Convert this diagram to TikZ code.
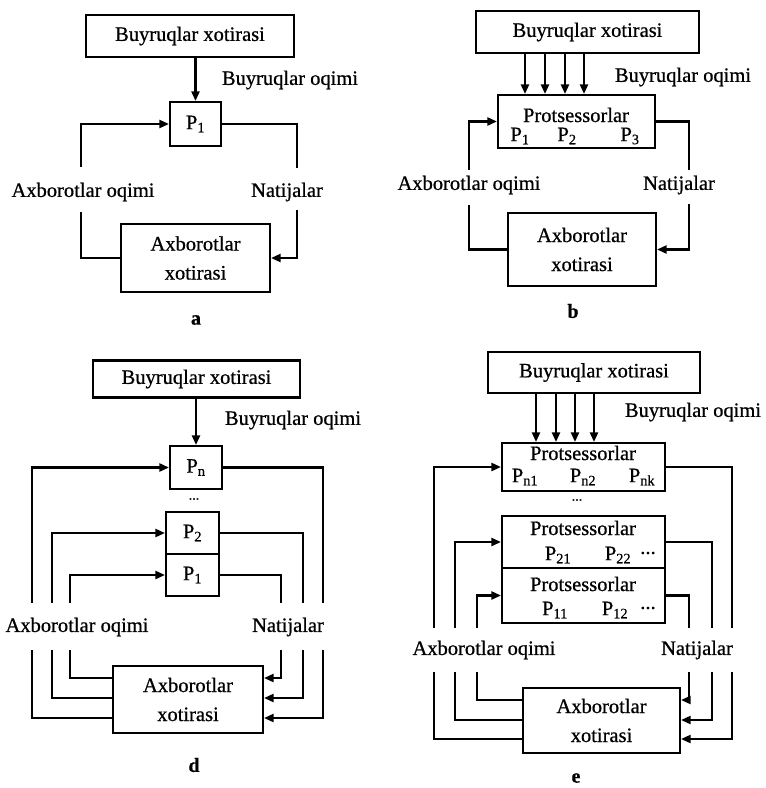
\documentclass[tikz,border=0pt]{standalone}
\usepackage{fontspec}
\setmainfont{Liberation Serif}[FakeBold=0.6]
\usetikzlibrary{arrows.meta}
\begin{document}
\begin{tikzpicture}[x=1pt,y=-1pt,
  every node/.style={font=\fontsize{20.5}{29}\selectfont, inner sep=0pt},
  box/.style={draw, line width=2.1pt, align=center},
  ln/.style={line width=2.1pt},
  arr/.style={line width=2.1pt, -{Triangle[length=9.5pt,width=8pt]}},
  smalldots/.style={font=\fontsize{14}{14}\selectfont},
  panelcap/.style={font=\fontsize{20}{20}\selectfont\bfseries}]
\useasboundingbox (0,0) rectangle (766,788);

% ---------------- panel a ----------------
\node[box, minimum width=208pt, minimum height=42pt] (BXa) at (190,36) {Buyruqlar xotirasi};
\node[box, minimum width=51pt, minimum height=44pt] (Pa) at (195.5,124) {P\textsubscript{1}};
\node[box, minimum width=149pt, minimum height=68pt] (AXa) at (195.5,258) {Axborotlar\\xotirasi};
\draw[arr] (BXa.south -| Pa) -- (Pa.north);
\node (BOa) at (290,80) {Buyruqlar oqimi};
\node (AOa) at (83,192) {Axborotlar oqimi};
\node (NTa) at (287,192) {Natijalar};
\coordinate (aL1) at (81,167); \coordinate (aL2) at (81,212);
\coordinate (aR1) at (297,168); \coordinate (aR2) at (297,210);
\draw[arr] (aL1) |- (Pa.west);
\draw[ln] (AXa.west) -| (aL2);
\draw[ln] (Pa.east) -| (aR1);
\draw[arr] (aR2) |- (AXa.east);
\node[panelcap] (capa) at (196,320) {a};

% ---------------- panel b ----------------
\node[box, minimum width=223pt, minimum height=42pt] (BXb) at (587.5,32) {Buyruqlar xotirasi};
\node[box, minimum width=157pt, minimum height=53pt] (PRb) at (576.5,121.5) {};
\node (PRbt) at (576,115) {Protsessorlar};
\node (PRb1) at (520,136) {P\textsubscript{1}};
\node (PRb2) at (567,136) {P\textsubscript{2}};
\node (PRb3) at (630,136) {P\textsubscript{3}};
\node[box, minimum width=148pt, minimum height=73pt] (AXb) at (582,249.5) {Axborotlar\\xotirasi};
\foreach \x [count=\i] in {525,545,565,584} {
  \coordinate (bA\i) at (\x,0);
  \draw[arr] (BXb.south -| bA\i) -- (PRb.north -| bA\i);
}
\node (BOb) at (683,77) {Buyruqlar oqimi};
\node (AOb) at (469,185) {Axborotlar oqimi};
\node (NTb) at (679,185) {Natijalar};
\coordinate (bL1) at (469,170); \coordinate (bL2) at (469,205);
\coordinate (bR1) at (689,170); \coordinate (bR2) at (689,204);
\draw[arr] (bL1) |- (PRb.west);
\draw[ln] (AXb.west) -| (bL2);
\draw[ln] (PRb.east) -| (bR1);
\draw[arr] (bR2) |- (AXb.east);
\node[panelcap] (capb) at (573,311) {b};

% ---------------- panel d ----------------
\node[box, minimum width=207pt, minimum height=37pt] (BXd) at (196.5,379) {Buyruqlar xotirasi};
\node[box, minimum width=52pt, minimum height=43pt] (Pnd) at (196,467.5) {P\textsubscript{n}};
\node[smalldots] (dotd) at (194,499) {...};
\node[box, minimum width=53pt, minimum height=42pt] (P2d) at (192.5,533) {P\textsubscript{2}};
\node[box, minimum width=53pt, minimum height=42pt] (P1d) at (192.5,575) {P\textsubscript{1}};
\node[box, minimum width=150pt, minimum height=67pt] (AXd) at (188,699.5) {Axborotlar\\xotirasi};
\draw[arr] (BXd.south -| Pnd) -- (Pnd.north);
\node (BOd) at (293,420) {Buyruqlar oqimi};
\node (AOd) at (77,627) {Axborotlar oqimi};
\node (NTd) at (288,627) {Natijalar};
% left side
\coordinate (dL1t) at (70,603); \coordinate (dL1b) at (70,650); \coordinate (dL1c) at (70,678);
\coordinate (dL2t) at (52,603); \coordinate (dL2b) at (52,650); \coordinate (dL2c) at (52,698);
\coordinate (dL3t) at (32,603); \coordinate (dL3b) at (32,650); \coordinate (dL3c) at (32,718);
\draw[arr] (dL1t) |- (P1d.west);
\draw[arr] (dL2t) |- (P2d.west);
\draw[arr] (dL3t) |- (Pnd.west);
\draw[ln] (AXd.west |- dL1c) -- (dL1c) -- (dL1b);
\draw[ln] (AXd.west |- dL2c) -- (dL2c) -- (dL2b);
\draw[ln] (AXd.west |- dL3c) -- (dL3c) -- (dL3b);
% right side
\coordinate (dR1t) at (281,603); \coordinate (dR1b) at (281,650); \coordinate (dR1c) at (281,678);
\coordinate (dR2t) at (303,603); \coordinate (dR2b) at (303,650); \coordinate (dR2c) at (303,698);
\coordinate (dR3t) at (323,603); \coordinate (dR3b) at (323,650); \coordinate (dR3c) at (323,718);
\draw[ln] (P1d.east) -| (dR1t);
\draw[ln] (P2d.east) -| (dR2t);
\draw[ln] (Pnd.east) -| (dR3t);
\draw[arr] (dR1b) -- (dR1c) -- (AXd.east |- dR1c);
\draw[arr] (dR2b) -- (dR2c) -- (AXd.east |- dR2c);
\draw[arr] (dR3b) -- (dR3c) -- (AXd.east |- dR3c);
\node[panelcap] (capd) at (194,765) {d};

% ---------------- panel e ----------------
\node[box, minimum width=212pt, minimum height=41pt] (BXe) at (594,372.5) {Buyruqlar xotirasi};
\node[box, minimum width=163pt, minimum height=48pt] (Pne) at (583.5,467) {};
\node (Pnet) at (583,453) {Protsessorlar};
\node (Pne1) at (525,477) {P\textsubscript{n1}};
\node (Pne2) at (583,477) {P\textsubscript{n2}};
\node (Pne3) at (642,477) {P\textsubscript{nk}};
\node[smalldots] (dote) at (577,500) {...};
\node[box, minimum width=163pt, minimum height=52pt] (P2e) at (583.5,542) {};
\node (P2et) at (583,528) {Protsessorlar};
\node (P2e1) at (558,555) {P\textsubscript{21}};
\node (P2e2) at (618,555) {P\textsubscript{22}};
\node (P2e3) at (648,553) {...};
\node[box, minimum width=163pt, minimum height=55pt] (P1e) at (583.5,595.5) {};
\node (P1et) at (583,584) {Protsessorlar};
\node (P1e1) at (555,610) {P\textsubscript{11}};
\node (P1e2) at (615,610) {P\textsubscript{12}};
\node (P1e3) at (648,608) {...};
\node[box, minimum width=157pt, minimum height=65pt] (AXe) at (601.5,720.5) {Axborotlar\\xotirasi};
\foreach \x [count=\i] in {536,556,575,594} {
  \coordinate (eA\i) at (\x,0);
  \draw[arr] (BXe.south -| eA\i) -- (Pne.north -| eA\i);
}
\node (BOe) at (693,412) {Buyruqlar oqimi};
\node (AOe) at (484,650) {Axborotlar oqimi};
\node (NTe) at (697,650) {Natijalar};
% left side
\coordinate (eL1t) at (477,628); \coordinate (eL1b) at (477,672); \coordinate (eL1c) at (477,700);
\coordinate (eL2t) at (455,628); \coordinate (eL2b) at (455,672); \coordinate (eL2c) at (455,720);
\coordinate (eL3t) at (434,628); \coordinate (eL3b) at (434,672); \coordinate (eL3c) at (434,739);
\draw[arr] (eL1t) |- (P1e.west);
\draw[arr] (eL2t) |- (P2e.west);
\draw[arr] (eL3t) |- (Pne.west);
\draw[ln] (AXe.west |- eL1c) -- (eL1c) -- (eL1b);
\draw[ln] (AXe.west |- eL2c) -- (eL2c) -- (eL2b);
\draw[ln] (AXe.west |- eL3c) -- (eL3c) -- (eL3b);
% right side
\coordinate (eR1t) at (689,628); \coordinate (eR1b) at (689,672); \coordinate (eR1c) at (689,700);
\coordinate (eR2t) at (712,628); \coordinate (eR2b) at (712,672); \coordinate (eR2c) at (712,720);
\coordinate (eR3t) at (732,628); \coordinate (eR3b) at (732,672); \coordinate (eR3c) at (732,739);
\draw[ln] (P1e.east) -| (eR1t);
\draw[ln] (P2e.east) -| (eR2t);
\draw[ln] (Pne.east) -| (eR3t);
\draw[arr] (eR1b) -- (eR1c) -- (AXe.east |- eR1c);
\draw[arr] (eR2b) -- (eR2c) -- (AXe.east |- eR2c);
\draw[arr] (eR3b) -- (eR3c) -- (AXe.east |- eR3c);
\node[panelcap] (cape) at (576,778) {e};
\end{tikzpicture}
\end{document}
